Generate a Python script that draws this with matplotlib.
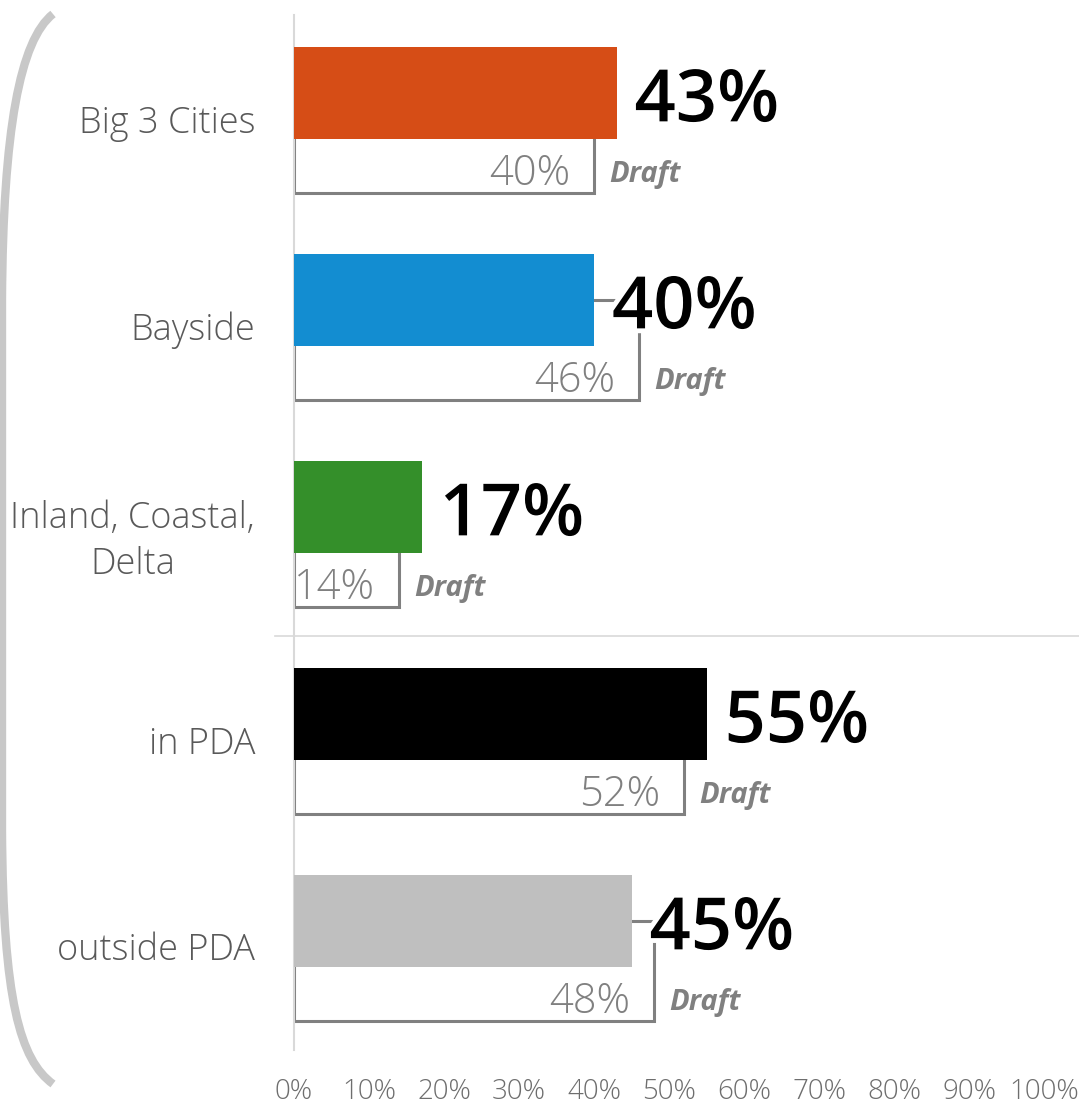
import matplotlib
matplotlib.use('Agg')
import matplotlib.pyplot as plt
import matplotlib.patheffects as pe
from matplotlib.path import Path
from matplotlib.patches import PathPatch
import numpy as np

plt.rcParams['font.family'] = ['Open Sans', 'DejaVu Sans']

categories = ['Big 3 Cities', 'Bayside', 'Inland, Coastal,\nDelta', 'in PDA', 'outside PDA']
values = [43, 40, 17, 55, 45]
draft = [40, 46, 14, 52, 48]
colors = ['#D64D16', '#138DD1', '#348F2A', '#000000', '#BFBFBF']
xticks = np.arange(0, 101, 10)

W, H = 1079, 1107
fig = plt.figure(figsize=(W / 100, H / 100), dpi=100)
ax = fig.add_axes([294 / W, 1 - 1050 / H, 750 / W, 1035 / H])

pos = np.arange(len(categories))
bar_y = pos - 0.125
bar_h = 0.445
draft_h = 0.483

# draft outline boxes, top edge at the bar centre
ax.barh(bar_y, draft, height=draft_h, align='edge',
        facecolor='none', edgecolor='#808080', lw=2.2, zorder=2)
ax.barh(bar_y, values, height=bar_h, color=colors, zorder=3)

outline = [pe.withStroke(linewidth=7, foreground='white')]
for y, v, d in zip(bar_y, values, draft):
    ax.annotate(f'{v}%', (v, y), xytext=(13, -7), textcoords='offset points',
                ha='left', va='center', fontsize=52, weight='semibold',
                color='black', path_effects=outline, zorder=6)
    ax.annotate(f'{d}%', (d, y + 0.377), xytext=(-17, -2), textcoords='offset points',
                ha='right', va='center', fontsize=30, weight='light',
                color='#808080', zorder=4)
    ax.annotate('Draft', (d, y + 0.377), xytext=(11, -3), textcoords='offset points',
                ha='left', va='center', fontsize=21, weight='bold', style='italic',
                color='#808080', zorder=4)

# separator between the two groups
ax.plot([-2.5, 105], [2.5, 2.5], color='#D9D9D9', lw=1.2, clip_on=False)

ax.set_xlim(0, 100)
ax.set_ylim(4.5, -0.5)
ax.set_xticks(xticks)
ax.set_xticklabels([f'{t}%' for t in xticks], fontsize=20, color='#6E6E6E',
                   weight='light')
ax.set_yticks(pos)
ax.set_yticklabels(categories, fontsize=26, color='#595959', linespacing=1.32,
                   weight='light')
for lbl in ax.get_yticklabels():
    lbl.set_multialignment('center')
ax.tick_params(axis='y', length=0, pad=28)
ax.tick_params(axis='x', length=0, pad=20)
for s in ['top', 'right', 'bottom']:
    ax.spines[s].set_visible(False)
ax.spines['left'].set_color('#D9D9D9')
ax.spines['left'].set_linewidth(1.5)

# bracket on the left
ax2 = fig.add_axes([0, 0, 1, 1], zorder=-1)
ax2.set_xlim(0, W)
ax2.set_ylim(H, 0)
ax2.axis('off')
verts = [(53, 14), (20, 40), (3, 130), (2, 300), (2, 830),
         (3, 1000), (20, 1060), (53, 1084)]
codes = [Path.MOVETO, Path.CURVE4, Path.CURVE4, Path.CURVE4, Path.LINETO,
         Path.CURVE4, Path.CURVE4, Path.CURVE4]
ax2.add_patch(PathPatch(Path(verts, codes), facecolor='none', edgecolor='#C8C8C8',
                        lw=6, capstyle='butt'))

fig.savefig('out.png', dpi=100)
